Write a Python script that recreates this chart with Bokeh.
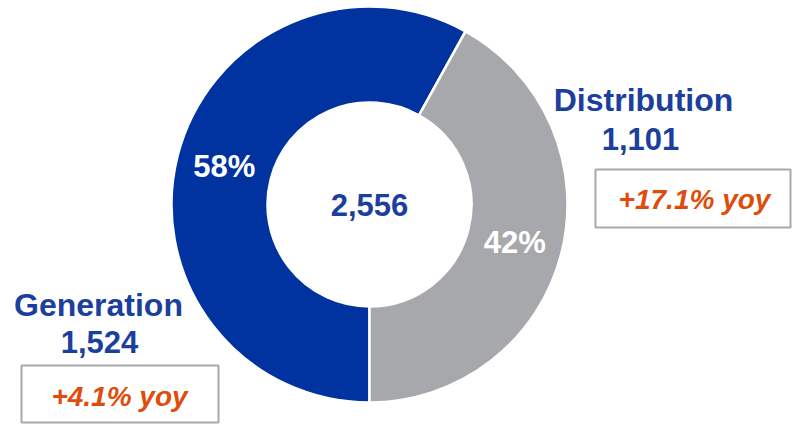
import numpy as np
from bokeh.plotting import figure
from bokeh.models import Range1d, ColumnDataSource
from bokeh.embed import file_html
from bokeh.resources import INLINE
from bokeh.core.properties import value

# ---- data ----
categories = ["Generation", "Distribution"]
values = [1524, 1101]
share_labels = ["58%", "42%"]
value_labels = ["1,524", "1,101"]
yoy_labels = ["+4.1% yoy", "+17.1% yoy"]
total_label = "2,556"

# ---- style ----
slice_colors = ["#0033A0", "#A7A8AB"]
label_blue = "#1C3F9E"
orange = "#E04C0C"
box_line = "#A9A9A9"
FONT = "Liberation Sans"

PAGE_H = 424
def py(y):  # page y -> data y (y up)
    return PAGE_H - y

W, H = 792, 424
p = figure(width=W, height=H, x_range=Range1d(0, 792), y_range=Range1d(0, 424),
           output_backend="svg", toolbar_location=None,
           x_axis_type=None, y_axis_type=None, min_border=0)
p.outline_line_color = None
p.background_fill_color = "white"

# donut geometry
cx, cy = 369, py(204)
r_in, r_out = 102, 198

vals = np.array(values, dtype=float)
frac = vals / vals.sum()
cum = np.concatenate([[0], np.cumsum(frac)[:-1]])
start = -np.pi / 2 - cum * 2 * np.pi
end = start - frac * 2 * np.pi
mid = (start + end) / 2
r_mid = (r_in + r_out) / 2

src = ColumnDataSource(dict(cat=categories, start=start, end=end, color=slice_colors,
                            lx=cx + r_mid * np.cos(mid), ly=cy + r_mid * np.sin(mid),
                            share=share_labels))
p.annular_wedge(x=cx, y=cy, inner_radius=r_in, outer_radius=r_out,
                start_angle="start", end_angle="end", direction="clock",
                fill_color="color", line_color="white", line_width=2.5, source=src)

p.text(x="lx", y="ly", text="share", source=src, text_color="white",
       text_font=value(FONT), text_font_style="bold", text_font_size="31px",
       text_align="center", text_baseline="middle")

p.text(x=[cx], y=[cy], text=[total_label], text_color=label_blue,
       text_font=value(FONT), text_font_style="bold", text_font_size="31px",
       text_align="center", text_baseline="middle")

# callout labels (layout positions, page coords)
name_x = [98, 643]
name_y = [304, 99]
val_x = [99, 640]
val_y = [341, 138]
box_l = [21, 595]
box_r = [218, 790]
box_t = [365, 169]
box_b = [422, 227]
yoy_x = [119, 694]
yoy_y = [396, 199]

p.quad(left=box_l, right=box_r, top=[py(t) for t in box_t], bottom=[py(b) for b in box_b],
       fill_color="white", line_color=box_line, line_width=2)

p.text(x=name_x, y=[py(v) for v in name_y], text=categories, text_color=label_blue,
       text_font=value(FONT), text_font_style="bold", text_font_size="32px",
       text_align="center", text_baseline="middle")
p.text(x=val_x, y=[py(v) for v in val_y], text=value_labels, text_color=label_blue,
       text_font=value(FONT), text_font_style="bold", text_font_size="31px",
       text_align="center", text_baseline="middle")
p.text(x=yoy_x, y=[py(v) for v in yoy_y], text=yoy_labels, text_color=orange,
       text_font=value(FONT), text_font_style="bold italic", text_font_size="28px",
       text_align="center", text_baseline="middle")

open("out.html", "w").write(file_html(p, INLINE))
